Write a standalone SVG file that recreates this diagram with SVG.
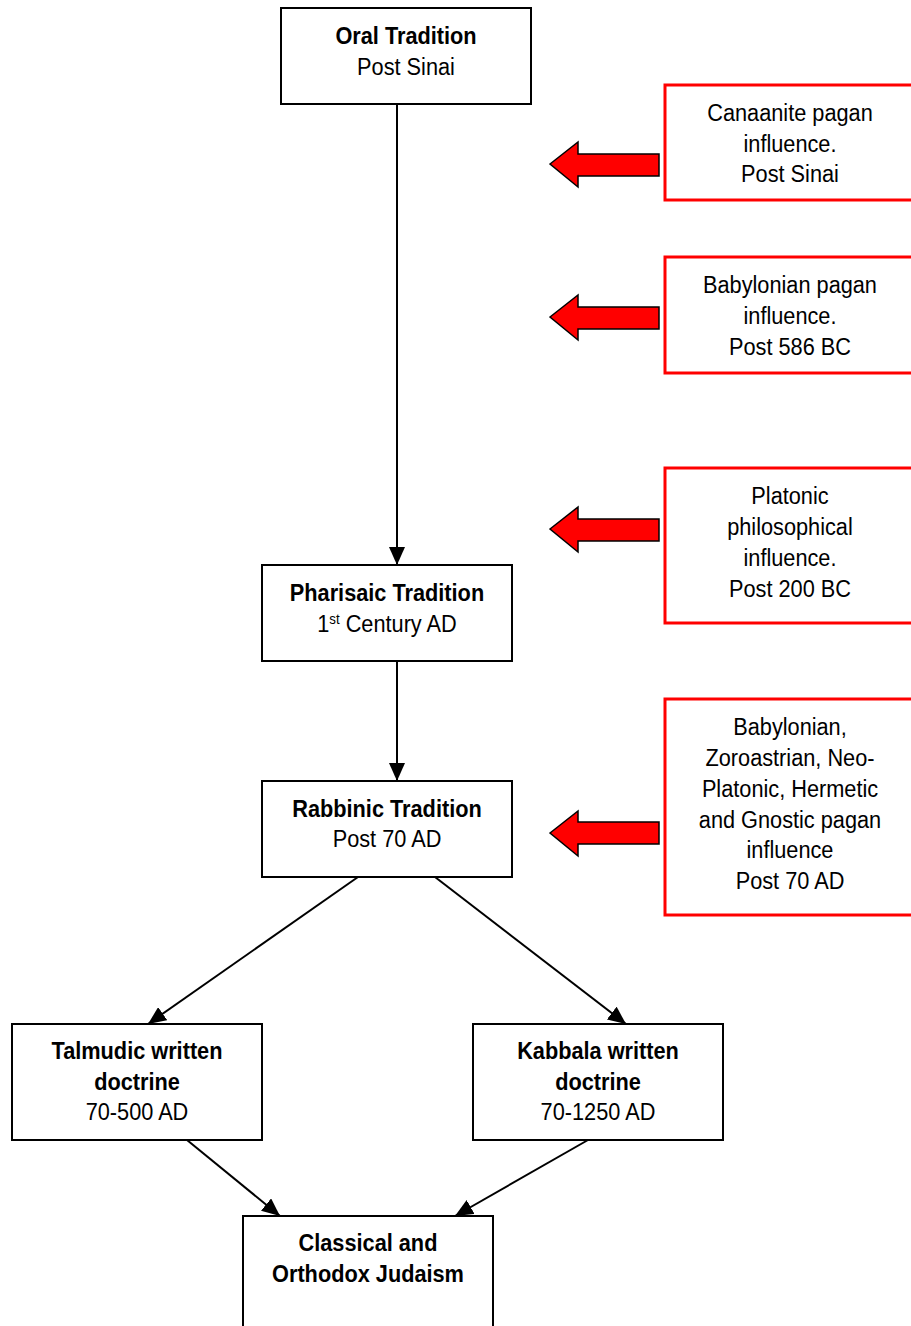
<svg xmlns="http://www.w3.org/2000/svg" width="911" height="1326" viewBox="0 0 911 1326">
<style>
.box{fill:#fff;stroke:#000;stroke-width:2}
.rbox{fill:#fff;stroke:#ff0000;stroke-width:3}
.t{font-family:"Liberation Sans",Arial,sans-serif;font-size:23px;text-anchor:middle;fill:#000;transform-box:fill-box;transform-origin:center;transform:scaleX(0.945)}
.b{font-weight:bold}
.c{stroke:#000;stroke-width:2;fill:none}
.ra{fill:#ff0000;stroke:#000;stroke-width:1.5;stroke-linejoin:miter}
</style>
<defs>
<marker id="ahl" markerWidth="18" markerHeight="16" refX="18" refY="8" orient="auto" markerUnits="userSpaceOnUse" viewBox="0 0 18 16">
<path d="M0,0 L18,8 L0,16 Z" fill="#000"/>
</marker>
</defs>
<rect width="911" height="1326" fill="#fff"/>
<g id="connectors">
<line class="c" x1="397" y1="104" x2="397" y2="565" marker-end="url(#ahl)"/>
<line class="c" x1="397" y1="661" x2="397" y2="781" marker-end="url(#ahl)"/>
<line class="c" x1="358" y1="877" x2="148" y2="1024" marker-end="url(#ahl)"/>
<line class="c" x1="435" y1="877" x2="626" y2="1024" marker-end="url(#ahl)"/>
<line class="c" x1="187" y1="1140" x2="280" y2="1216" marker-end="url(#ahl)"/>
<line class="c" x1="588" y1="1140" x2="455" y2="1216" marker-end="url(#ahl)"/>
</g>
<g id="oral">
<rect class="box" x="281" y="8" width="250" height="96"/>
<text class="t b" x="406" y="44">Oral Tradition</text>
<text class="t" x="406" y="75">Post Sinai</text>
</g>
<g id="pharisaic">
<rect class="box" x="262" y="565" width="250" height="96"/>
<text class="t b" x="387" y="601">Pharisaic Tradition</text>
<text class="t" x="387" y="632">1<tspan font-size="14" dy="-8">st</tspan><tspan dy="8"> Century AD</tspan></text>
</g>
<g id="rabbinic">
<rect class="box" x="262" y="781" width="250" height="96"/>
<text class="t b" x="387" y="817">Rabbinic Tradition</text>
<text class="t" x="387" y="847">Post 70 AD</text>
</g>
<g id="talmudic">
<rect class="box" x="12" y="1024" width="250" height="116"/>
<text class="t b" x="137" y="1059">Talmudic written</text>
<text class="t b" x="137" y="1090">doctrine</text>
<text class="t" x="137" y="1120">70-500 AD</text>
</g>
<g id="kabbala">
<rect class="box" x="473" y="1024" width="250" height="116"/>
<text class="t b" x="598" y="1059">Kabbala written</text>
<text class="t b" x="598" y="1090">doctrine</text>
<text class="t" x="598" y="1120">70-1250 AD</text>
</g>
<g id="classical">
<rect class="box" x="243" y="1216" width="250" height="130"/>
<text class="t b" x="368" y="1251">Classical and</text>
<text class="t b" x="368" y="1282">Orthodox Judaism</text>
</g>
<g id="canaanite">
<rect class="rbox" x="665" y="85" width="260" height="115"/>
<text class="t" x="790" y="121">Canaanite pagan</text>
<text class="t" x="790" y="152">influence.</text>
<text class="t" x="790" y="182">Post Sinai</text>
<polygon class="ra" points="550,164 578,142 578,154 659,154 659,176 578,176 578,187"/>
</g>
<g id="babylonian">
<rect class="rbox" x="665" y="257" width="260" height="116"/>
<text class="t" x="790" y="293">Babylonian pagan</text>
<text class="t" x="790" y="324">influence.</text>
<text class="t" x="790" y="355">Post 586 BC</text>
<polygon class="ra" points="550,317 578,295 578,307 659,307 659,329 578,329 578,340"/>
</g>
<g id="platonic">
<rect class="rbox" x="665" y="468" width="260" height="155"/>
<text class="t" x="790" y="504">Platonic</text>
<text class="t" x="790" y="535">philosophical</text>
<text class="t" x="790" y="566">influence.</text>
<text class="t" x="790" y="597">Post 200 BC</text>
<polygon class="ra" points="550,529 578,507 578,519 659,519 659,541 578,541 578,552"/>
</g>
<g id="babylonian-zoroastrian">
<rect class="rbox" x="665" y="699" width="260" height="216"/>
<text class="t" x="790" y="735">Babylonian,</text>
<text class="t" x="790" y="766">Zoroastrian, Neo-</text>
<text class="t" x="790" y="797">Platonic, Hermetic</text>
<text class="t" x="790" y="828">and Gnostic pagan</text>
<text class="t" x="790" y="858">influence</text>
<text class="t" x="790" y="889">Post 70 AD</text>
<polygon class="ra" points="550,833 578,811 578,822 659,822 659,844 578,844 578,856"/>
</g>
</svg>
